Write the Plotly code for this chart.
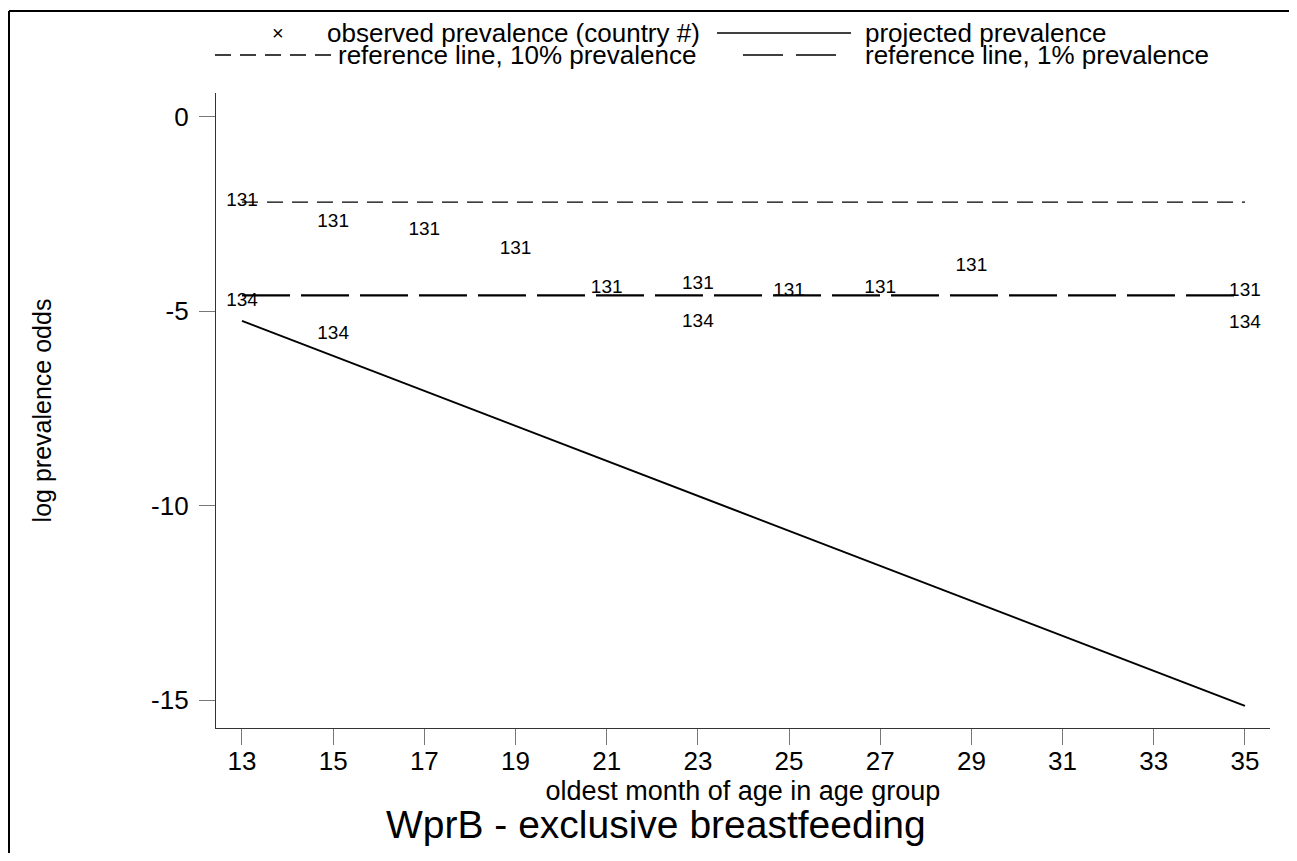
import plotly.graph_objects as go

# ---- data ----
obs_age = [13, 15, 17, 19, 21, 23, 25, 27, 29, 35, 13, 15, 23, 35]
obs_logodds = [-2.17, -2.71, -2.91, -3.42, -4.40, -4.32, -4.49, -4.40, -3.84, -4.50,
               -4.75, -5.60, -5.29, -5.32]
obs_country = ["131"] * 10 + ["134"] * 4

proj_age = [13, 35]
proj_logodds = [-5.25, -15.15]

ref_age = [13, 35]
ref10_logodds = [-2.197, -2.197]   # log(0.1/0.9)
ref1_logodds = [-4.595, -4.595]    # log(0.01/0.99)

x_ticks = [13, 15, 17, 19, 21, 23, 25, 27, 29, 31, 33, 35]
y_ticks = [0, -5, -10, -15]
y_ticktext = ["0", "-5", "-10", "-15"]

legend_labels = ["observed prevalence (country #)", "projected prevalence",
                 "reference line, 10% prevalence", "reference line, 1% prevalence"]

# ---- layout geometry (target page pixels; page adds an 8px body margin) ----
OFF = 8
PAGE_W, PAGE_H = 1297, 861
W, H = PAGE_W - OFF, PAGE_H - 2 * OFF
L, R, T, B = 216 - OFF, 1270 - OFF, 93 - OFF, 728 - OFF
FONT = "Liberation Sans, Arial, Helvetica, sans-serif"


def px(x):
    return (x - OFF - L) / (R - L)


def py(y):
    return (B - (y - OFF)) / (B - T)


fig = go.Figure()

fig.add_trace(go.Scatter(x=ref_age, y=ref10_logodds, mode="lines",
                         line=dict(color="black", width=1.3, dash="16px,9px"),
                         showlegend=False, hoverinfo="skip"))
fig.add_trace(go.Scatter(x=ref_age, y=ref1_logodds, mode="lines",
                         line=dict(color="black", width=2.2, dash="48px,11px"),
                         showlegend=False, hoverinfo="skip"))
fig.add_trace(go.Scatter(x=proj_age, y=proj_logodds, mode="lines",
                         line=dict(color="black", width=2),
                         showlegend=False))
fig.add_trace(go.Scatter(x=obs_age, y=obs_logodds, mode="text", text=obs_country,
                         textposition="middle center",
                         textfont=dict(family=FONT, size=19, color="black"),
                         showlegend=False))

# ---- custom legend ----
shapes = []
annotations = []
row1, row2 = py(33), py(55)
LEG_FONT = dict(family=FONT, size=26, color="black")

annotations.append(dict(x=px(278), y=row1, xref="paper", yref="paper", text="×",
                        showarrow=False, xanchor="center", yanchor="middle",
                        font=dict(family=FONT, size=20, color="black")))
annotations.append(dict(x=px(325), y=row1, xref="paper", yref="paper",
                        text=legend_labels[0], showarrow=False,
                        xanchor="left", yanchor="middle", font=LEG_FONT))
shapes.append(dict(type="line", xref="paper", yref="paper", x0=px(717), x1=px(851),
                   y0=row1, y1=row1, line=dict(color="black", width=1.5)))
annotations.append(dict(x=px(863), y=row1, xref="paper", yref="paper",
                        text=legend_labels[1], showarrow=False,
                        xanchor="left", yanchor="middle", font=LEG_FONT))

shapes.append(dict(type="line", xref="paper", yref="paper", x0=px(215), x1=px(333),
                   y0=row2, y1=row2, line=dict(color="black", width=1.3, dash="16px,9px")))
annotations.append(dict(x=px(336), y=row2, xref="paper", yref="paper",
                        text=legend_labels[2], showarrow=False,
                        xanchor="left", yanchor="middle", font=LEG_FONT))
shapes.append(dict(type="line", xref="paper", yref="paper", x0=px(743), x1=px(848),
                   y0=row2, y1=row2, line=dict(color="black", width=1.5, dash="40px,13px")))
annotations.append(dict(x=px(863), y=row2, xref="paper", yref="paper",
                        text=legend_labels[3], showarrow=False,
                        xanchor="left", yanchor="middle", font=LEG_FONT))

# outer frame (top and left edges visible)
shapes.append(dict(type="line", xref="paper", yref="paper", x0=px(9), x1=px(PAGE_W - 4),
                   y0=py(11), y1=py(11), line=dict(color="black", width=2)))
shapes.append(dict(type="line", xref="paper", yref="paper", x0=px(9), x1=px(9),
                   y0=py(11), y1=py(PAGE_H + 5), line=dict(color="black", width=2)))

# chart title
annotations.append(dict(x=px(656), y=py(824), xref="paper", yref="paper",
                        text="WprB - exclusive breastfeeding", showarrow=False,
                        xanchor="center", yanchor="middle",
                        font=dict(family=FONT, size=39, color="black")))

fig.update_layout(
    width=W, height=H,
    margin=dict(l=L, r=W - R, t=T, b=H - B, autoexpand=False),
    paper_bgcolor="white", plot_bgcolor="white",
    font=dict(family=FONT, color="black"),
    shapes=shapes, annotations=annotations,
    showlegend=False,
)

fig.update_xaxes(
    range=[12.43, 35.55], tickvals=x_ticks, ticktext=[str(v) for v in x_ticks],
    showgrid=False, zeroline=False, showline=True, linecolor="#333", linewidth=1.3,
    ticks="outside", ticklen=16, tickcolor="#777", tickwidth=1.3,
    ticklabelstandoff=-6,
    tickfont=dict(family=FONT, size=26, color="black"),
    title=dict(text="oldest month of age in age group", standoff=2,
               font=dict(family=FONT, size=27, color="black")),
)
fig.update_yaxes(
    range=[-15.72, 0.61], tickvals=y_ticks, ticktext=y_ticktext,
    showgrid=False, zeroline=False, showline=True, linecolor="#333", linewidth=1.3,
    ticks="outside", ticklen=16, tickcolor="#777", tickwidth=1.3,
    ticklabelstandoff=5,
    tickfont=dict(family=FONT, size=26, color="black"),
    title=dict(text="log prevalence odds", standoff=92,
               font=dict(family=FONT, size=25, color="black")),
)

fig.write_html("out.html")
